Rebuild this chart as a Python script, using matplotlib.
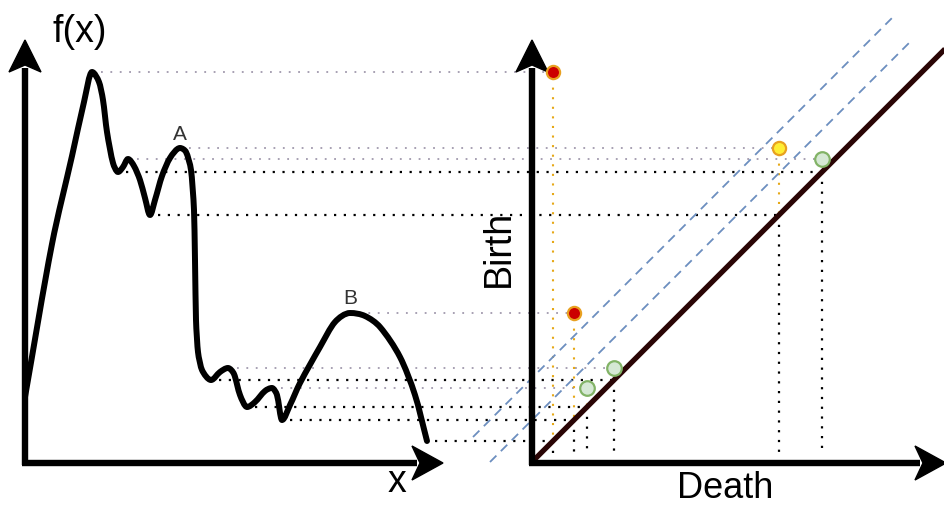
import numpy as np
import matplotlib
matplotlib.use("Agg")
import matplotlib.pyplot as plt
from matplotlib.path import Path
from matplotlib.patches import PathPatch, Polygon

plt.rcParams['font.family'] = ['Liberation Sans', 'DejaVu Sans']

# f(x) sketch: key points of the curve (x position, f value)
curve_x = [25, 52, 72, 84, 92, 99, 103, 107, 113, 118, 123, 128, 134, 140, 145,
           150, 155, 162, 170, 180, 186, 191, 194, 195, 196, 198, 202, 211, 220, 228,
           234, 240, 247, 255, 265, 272, 277, 282, 290, 300, 320, 335, 350, 365, 380,
           400, 415, 427]
curve_f = [65, 218, 306, 360, 390, 380, 362, 330, 299, 290, 295, 303, 296, 282, 264,
           247, 262, 286, 304, 314, 310, 292, 252, 202, 142, 110, 92, 82, 90, 94,
           88, 67, 55, 60, 71, 74, 67, 42, 57, 79, 115, 140, 149, 146, 135,
           105, 67, 21]

# critical points: maxima (births) and the minima that kill them (deaths)
max_x = [92, 180, 128, 350, 228, 272]
min_x = [427, 150, 118, 282, 211, 247]
birth = [390, 314, 303, 149, 94, 74]
death = [21, 247, 290, 42, 82, 55]
point_face = ['#cc0000', '#ffee33', '#d5e8d4', '#cc0000', '#d5e8d4', '#d5e8d4']
point_edge = ['#e8a020', '#e8a020', '#82b366', '#e8a020', '#82b366', '#82b366']
point_size = [9.5, 9.5, 10.5, 9.5, 10.5, 10.5]

# peak labels
peak_names = ['A', 'B']
peak_x = [180, 350]
peak_f = [327, 164]

# layout
D0 = 532          # origin of the persistence diagram (x)
band = [42, 84]   # offsets of the dashed confidence lines
band_lo = [-42, -59]
band_hi = [381, 360]

fig = plt.figure(figsize=(9.45, 5.08), dpi=100)
ax = fig.add_axes([0, 0, 1, 1])
ax.set_xlim(0, 945)
ax.set_ylim(-46, 462)
ax.axis('off')


def smooth_path(xs, ys):
    P = np.column_stack([xs, ys]).astype(float)
    n = len(P)
    T = np.zeros_like(P)
    for i in range(n):
        if i == 0:
            d = P[1] - P[0]
        elif i == n - 1:
            d = P[-1] - P[-2]
        else:
            d = P[i + 1] - P[i - 1]
            if (ys[i] - ys[i - 1]) * (ys[i + 1] - ys[i]) < 0:
                d = np.array([d[0], 0.0])
        T[i] = d / np.linalg.norm(d)
    verts = [P[0]]
    codes = [Path.MOVETO]
    for i in range(n - 1):
        seg = np.linalg.norm(P[i + 1] - P[i]) / 3
        dx = (P[i + 1, 0] - P[i, 0]) / 3
        L0 = min(seg, dx / max(T[i, 0], 1e-6))
        L1 = min(seg, dx / max(T[i + 1, 0], 1e-6))
        verts += [P[i] + T[i] * L0, P[i + 1] - T[i + 1] * L1, P[i + 1]]
        codes += [Path.CURVE4] * 3
    return Path(verts, codes)


dot_grey = dict(color='#a098ac', lw=1.3, dashes=(1, 4.2), zorder=1)
dot_black = dict(color='black', lw=1.6, dashes=(1, 3.4), zorder=1)
dot_orange = dict(color='#e6a817', lw=1.5, dashes=(1, 3.6), zorder=2)

for mx, mn, b, d in zip(max_x, min_x, birth, death):
    px = D0 + d
    # birth level -> point
    ax.plot([mx + 9, px - 6], [b, b], **dot_grey)
    # death level -> diagonal
    ax.plot([mn + 8, px], [d, d], **dot_black)
    # point -> diagonal -> death axis
    ax.plot([px, px], [b - 6, d], **dot_orange)
    ax.plot([px, px], [d, 7], **dot_black)

# the curve
ax.add_patch(PathPatch(smooth_path(curve_x, curve_f), fill=False, lw=4.3,
                       edgecolor='black', capstyle='round', joinstyle='round', zorder=3))

for name, x, f in zip(peak_names, peak_x, peak_f):
    ax.text(x, f, name, fontsize=15, color='#333333', ha='center', va='center', zorder=4)

# dashed band lines parallel to the diagonal
for off, lo, hi in zip(band, band_lo, band_hi):
    ax.plot([D0 + lo, D0 + hi], [lo + off, hi + off], color='#6c8ebf', lw=1.3,
            dashes=(5, 3.5), zorder=2)

# diagonal birth = death
ax.plot([D0, 945], [0, 945 - D0], color='#2a0505', lw=3.8, solid_capstyle='butt', zorder=4)

# persistence points
for d, b, fc, ec, s in zip(death, birth, point_face, point_edge, point_size):
    ax.plot(D0 + d, b, 'o', ms=s, mfc=fc, mec=ec, mew=1.6, zorder=6)


def arrow_axes(x0, x_end, y_top):
    ax.plot([x0, x0], [-3, y_top - 28], color='black', lw=4.6, solid_capstyle='butt', zorder=5)
    ax.plot([x0 - 3, x_end - 26], [-1, -1], color='black', lw=4.6, solid_capstyle='butt', zorder=5)
    ax.add_patch(Polygon([[x0, y_top], [x0 - 16, y_top - 32], [x0, y_top - 25],
                          [x0 + 16, y_top - 32]], closed=True, color='black', zorder=5))
    ax.add_patch(Polygon([[x_end, -1], [x_end - 31, 16], [x_end - 23, -1],
                          [x_end - 31, -18]], closed=True, color='black', zorder=5))


arrow_axes(25, 443, 422)
arrow_axes(D0, 946, 422)

ax.text(80, 430, 'f(x)', fontsize=27, ha='center', va='center')
ax.text(397, -30, 'x', fontsize=27, ha='center', va='baseline')
ax.text(725, -36, 'Death', fontsize=26, ha='center', va='baseline')
ax.text(499, 214, 'Birth', fontsize=27, ha='center', va='center', rotation=90)

fig.savefig('out.png', dpi=100)
